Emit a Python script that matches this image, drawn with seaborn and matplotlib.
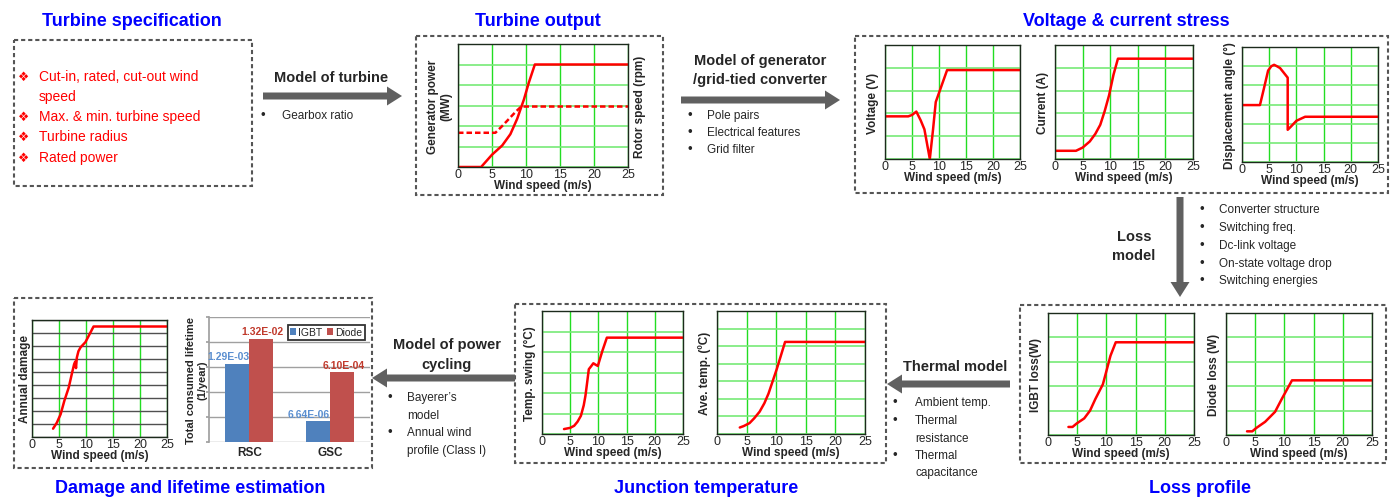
import numpy as np
import pandas as pd
import matplotlib
matplotlib.use("Agg")
import matplotlib.pyplot as plt
import matplotlib.patches as mpatches
import seaborn as sns

sns.set_theme(style="white")
plt.rcParams["font.family"] = ["Liberation Sans", "DejaVu Sans"]

# ---- data (grid units, y ticks are unlabelled) ----
wind_ticks = [0, 5, 10, 15, 20, 25]

power_ws = [0, 3.4, 5.0, 6.5, 7.7, 8.7, 9.7, 10.4, 11.3, 25]
power_mw = [0, 0, 0.6, 1.05, 1.6, 2.35, 3.3, 4.1, 5.0, 5.0]
rotor_ws = [0, 5.5, 6.5, 7.5, 8.5, 9.3, 25]
rotor_rpm = [1.67, 1.67, 2.0, 2.35, 2.7, 2.95, 2.95]

volt_ws = [0, 4.3, 5.0, 5.8, 6.6, 7.3, 8.3, 8.9, 9.4, 10.0, 11.5, 25]
volt_v = [1.87, 1.87, 1.93, 2.08, 1.7, 1.3, 0.0, 1.3, 2.5, 2.9, 3.9, 3.9]

curr_ws = [0, 3.8, 5.0, 6.3, 7.3, 8.2, 9.0, 9.8, 10.6, 11.4, 25]
curr_a = [0.36, 0.36, 0.5, 0.77, 1.1, 1.5, 2.1, 2.8, 3.7, 4.4, 4.4]

disp_ws = [0, 3.3, 4.0, 4.8, 5.4, 5.9, 6.4, 7.0, 8.4, 8.4, 9.0, 10.0, 11.6, 25]
disp_deg = [2.97, 2.97, 3.8, 4.77, 5.0, 5.07, 5.0, 4.9, 4.4, 1.68, 1.85, 2.15, 2.36, 2.36]

igbt_ws = [3.5, 4.2, 4.9, 6.2, 7.2, 8.1, 9.4, 10.7, 11.6, 25]
igbt_loss = [0.33, 0.33, 0.47, 0.68, 1.0, 1.47, 2.08, 3.25, 3.8, 3.8]

diode_ws = [3.6, 4.5, 5.2, 6.7, 8.4, 9.6, 11.3, 25]
diode_loss = [0.15, 0.15, 0.29, 0.54, 0.95, 1.5, 2.24, 2.24]

swing_ws = [3.9, 5.0, 5.7, 6.3, 6.9, 7.4, 7.7, 8.0, 8.3, 8.7, 9.1, 9.5, 9.9, 10.7, 11.5, 25]
swing_c = [0.24, 0.3, 0.4, 0.6, 0.89, 1.4, 1.86, 2.5, 3.16, 3.3, 3.45, 3.38, 3.32, 4.05, 4.7, 4.7]

ave_ws = [3.85, 4.5, 5.5, 6.3, 7.2, 8.0, 8.7, 9.4, 10.1, 11.5, 25]
ave_c = [0.37, 0.45, 0.62, 0.9, 1.27, 1.75, 2.3, 3.0, 3.7, 5.24, 5.24]

dmg_ws = [3.9, 4.6, 5.3, 6.0, 6.8, 7.4, 7.8, 8.0, 8.15, 8.3, 8.6, 9.0, 9.9, 11.4, 25]
dmg_val = [0.64, 1.1, 1.75, 2.8, 3.8, 4.9, 5.6, 5.8, 5.3, 6.1, 6.6, 6.9, 7.3, 8.5, 8.5]

converters = ["RSC", "GSC"]
igbt_life = [1.29e-3, 6.64e-6]
diode_life = [1.32e-2, 6.10e-4]

spec_items = ["Cut-in, rated, cut-out wind", "speed", "Max. & min. turbine speed",
              "Turbine radius", "Rated power"]

W, H = 1397, 502
RED = "#ff0000"
BLUE = "#0000ff"
ARROW = "#606060"
VGREEN = "#22dd22"
HGREEN = "#77ea77"

fig = plt.figure(figsize=(W / 100, H / 100), dpi=100)

# background layer in pixel coordinates
bg = fig.add_axes([0, 0, 1, 1])
bg.set_xlim(0, W)
bg.set_ylim(H, 0)
bg.axis("off")


def px_axes(x0, y0, x1, y1):
    return fig.add_axes([x0 / W, 1 - y1 / H, (x1 - x0) / W, (y1 - y0) / H])


def dashed_box(x0, y0, x1, y1):
    bg.add_patch(mpatches.Rectangle((x0, y0), x1 - x0, y1 - y0, fill=False,
                                    ec="#555555", lw=1.5, ls=(0, (2, 1.4))))


def arrow(x0, y0, x1, y1):
    bg.add_patch(mpatches.FancyArrow(x0, y0, x1 - x0, y1 - y0, width=7,
                                     head_width=19, head_length=15,
                                     length_includes_head=True, color=ARROW, lw=0))


def bullets(xb, xt, ys, lines, marks, size=8.5):
    for y, t, m in zip(ys, lines, marks):
        if m:
            bg.text(xb, y, "\u2022", fontsize=size + 1, va="center", ha="center")
        bg.text(xt, y, t, fontsize=size, va="center", ha="left")


def style_panel(ax, ymax, ylabel, hcolor=HGREEN, ypad=3):
    ax.set_xlim(0, 25)
    ax.set_ylim(0, ymax)
    ax.set_xticks(wind_ticks)
    ax.set_yticks(range(ymax + 1))
    ax.set_yticklabels([])
    ax.xaxis.grid(True, color=VGREEN, lw=1)
    ax.yaxis.grid(True, color=hcolor, lw=1.2)
    ax.set_axisbelow(True)
    ax.tick_params(length=0, labelsize=9, pad=1)
    for s in ax.spines.values():
        s.set_color("#1c2a1c")
        s.set_linewidth(1)
    ax.set_xlabel("Wind speed (m/s)", fontsize=8.5, fontweight="bold", labelpad=-1)
    ax.set_ylabel(ylabel, fontsize=8.5, fontweight="bold", labelpad=ypad)


def curve(ax, xs, ys, ls="-"):
    sns.lineplot(x=xs, y=ys, ax=ax, color=RED, lw=1.8, linestyle=ls,
                 sort=False, estimator=None)


# ---- boxes ----
dashed_box(14, 41, 252, 187)
dashed_box(416, 37, 663, 196)
dashed_box(855, 37, 1388, 194)
dashed_box(1020, 306, 1386, 464)
dashed_box(515, 305, 886, 464)
dashed_box(14, 299, 372, 469)

# ---- titles ----
titles = [("Turbine specification", 132, 21), ("Turbine output", 538, 21),
          ("Voltage & current stress", 1126, 21),
          ("Damage and lifetime estimation", 190, 489),
          ("Junction temperature", 706, 489), ("Loss profile", 1200, 489)]
for t, x, y in titles:
    bg.text(x, y, t, color=BLUE, fontsize=13, fontweight="bold", ha="center", va="center")

# ---- turbine specification ----
spec_y = [77, 97, 117, 137, 158]
for y, t, i in zip(spec_y, spec_items, range(5)):
    if i != 1:
        bg.text(24, y, "\u2756", color=RED, fontsize=9, ha="center", va="center",
                family=["DejaVu Sans"])
    bg.text(39, y, t, color=RED, fontsize=10, ha="left", va="center")

# ---- arrows and model texts ----
arrow(263, 97, 402, 97)
bg.text(331, 78, "Model of turbine", fontsize=10.5, fontweight="bold", ha="center", va="center")
bullets(263, 282, [116], ["Gearbox ratio"], [True])

arrow(681, 101, 840, 101)
bg.text(760, 61, "Model of generator", fontsize=10.5, fontweight="bold", ha="center", va="center")
bg.text(760, 80, "/grid-tied converter", fontsize=10.5, fontweight="bold", ha="center", va="center")
bullets(690, 707, [116, 133, 150], ["Pole pairs", "Electrical features", "Grid filter"],
        [True, True, True])

arrow(1180, 198, 1180, 298)
bg.text(1134, 237, "Loss", fontsize=10.5, fontweight="bold", ha="center", va="center")
bg.text(1134, 256, "model", fontsize=10.5, fontweight="bold", ha="center", va="center")
bullets(1202, 1219, [210, 228, 246, 264, 281],
        ["Converter structure", "Switching freq.", "Dc-link voltage",
         "On-state voltage drop", "Switching energies"], [True] * 5)

arrow(1010, 385, 887, 385)
bg.text(955, 367, "Thermal model", fontsize=10.5, fontweight="bold", ha="center", va="center")
bullets(895, 915, [403, 421, 439, 456, 473],
        ["Ambient temp.", "Thermal", "resistance", "Thermal", "capacitance"],
        [True, True, False, True, False])

arrow(515, 379, 372, 379)
bg.text(447, 345, "Model of power", fontsize=10.5, fontweight="bold", ha="center", va="center")
bg.text(447, 365, "cycling", fontsize=10.5, fontweight="bold", ha="center", va="center")
bullets(390, 407, [398, 416, 433, 451],
        ["Bayerer\u2019s", "model", "Annual wind", "profile (Class I)"],
        [True, False, True, False])

# ---- turbine output ----
ax = px_axes(458, 45, 628, 168)
curve(ax, power_ws, power_mw)
curve(ax, rotor_ws, rotor_rpm, ls=(0, (2.2, 1.2)))
style_panel(ax, 6, "Generator power\n(MW)")
ax2 = ax.twinx()
ax2.set_yticks([])
ax2.set_ylabel("Rotor speed (rpm)", fontsize=8.5, fontweight="bold", labelpad=4)
ax2.spines[:].set_visible(False)

# ---- voltage & current stress ----
ax = px_axes(885, 46, 1020, 160)
curve(ax, volt_ws, volt_v)
style_panel(ax, 5, "Voltage (V)")

ax = px_axes(1055, 46, 1193, 160)
curve(ax, curr_ws, curr_a)
style_panel(ax, 5, "Current (A)")

ax = px_axes(1242, 48, 1378, 163)
curve(ax, disp_ws, disp_deg)
style_panel(ax, 6, "Displacement angle (\u00b0)")

# ---- loss profile ----
ax = px_axes(1048, 314, 1194, 436)
curve(ax, igbt_ws, igbt_loss)
style_panel(ax, 5, "IGBT loss(W)")

ax = px_axes(1226, 314, 1372, 436)
curve(ax, diode_ws, diode_loss)
style_panel(ax, 5, "Diode loss (W)")

# ---- junction temperature ----
ax = px_axes(542, 312, 683, 435)
curve(ax, swing_ws, swing_c)
style_panel(ax, 6, "Temp. swing (\u00b0C)")

ax = px_axes(717, 312, 865, 435)
curve(ax, ave_ws, ave_c)
style_panel(ax, 7, "Ave. temp. (\u00baC)")

# ---- damage ----
ax = px_axes(32, 321, 167, 438)
curve(ax, dmg_ws, dmg_val)
style_panel(ax, 9, "Annual damage", hcolor="#505050", ypad=0)
ax.yaxis.grid(True, color="#505050", lw=1)

# ---- lifetime bar chart ----
life = pd.DataFrame({
    "conv": converters * 2,
    "device": ["IGBT"] * 2 + ["Diode"] * 2,
    "value": igbt_life + diode_life,
})
ax = px_axes(209, 318, 370, 443)
sns.barplot(data=life, x="conv", y="value", hue="device", ax=ax, width=0.6,
            palette=["#4f81bd", "#c0504d"], saturation=1, edgecolor="none")
ax.set_yscale("log")
ax.set_ylim(1e-6, 1e-1)
ax.set_xlim(-0.5, 1.5)
ax.set_yticks([1e-6, 1e-5, 1e-4, 1e-3, 1e-2, 1e-1])
ax.yaxis.set_minor_locator(matplotlib.ticker.NullLocator())
ax.set_yticklabels([])
ax.yaxis.grid(True, color="#a0a0a0", lw=1)
ax.set_axisbelow(True)
for s in ["top", "right", "bottom"]:
    ax.spines[s].set_visible(False)
ax.spines["left"].set_color("#a0a0a0")
ax.tick_params(axis="y", length=2, color="#a0a0a0", left=True, pad=0)
ax.tick_params(axis="x", length=0, pad=3)
for lab in ax.get_xticklabels():
    lab.set_fontweight("bold")
    lab.set_fontsize(8.5)
ax.set_xlabel("")
ax.set_ylabel("Total consumed lifetime\n(1/year)", fontsize=8, fontweight="bold", labelpad=-1)

# value labels: IGBT right-aligned to its bar, Diode centred
igbt_bars, diode_bars = ax.containers[0], ax.containers[1]
for bar, v in zip(igbt_bars, igbt_life):
    ax.annotate(f"{v:.2E}", (bar.get_x() + bar.get_width(), bar.get_height()),
                xytext=(0, 2), textcoords="offset points", ha="right", va="bottom",
                color="#5b8fd0", fontsize=7.5, fontweight="bold")
for bar, v in zip(diode_bars, diode_life):
    ax.annotate(f"{v:.2E}", (bar.get_x() + bar.get_width() / 2, bar.get_height()),
                xytext=(1, 2), textcoords="offset points", ha="center", va="bottom",
                color="#c0392b", fontsize=7.5, fontweight="bold")

handles, labels = ax.get_legend_handles_labels()
ax.legend(handles, labels, ncol=2, loc="upper right", fontsize=7.5, frameon=True,
          fancybox=False, edgecolor="black", handlelength=0.6, handleheight=0.6,
          handletextpad=0.2, columnspacing=0.4, borderpad=0.25,
          bbox_to_anchor=(1.0, 0.98))
ax.get_legend().get_frame().set_linewidth(1.3)

fig.savefig("out.png", dpi=100)
